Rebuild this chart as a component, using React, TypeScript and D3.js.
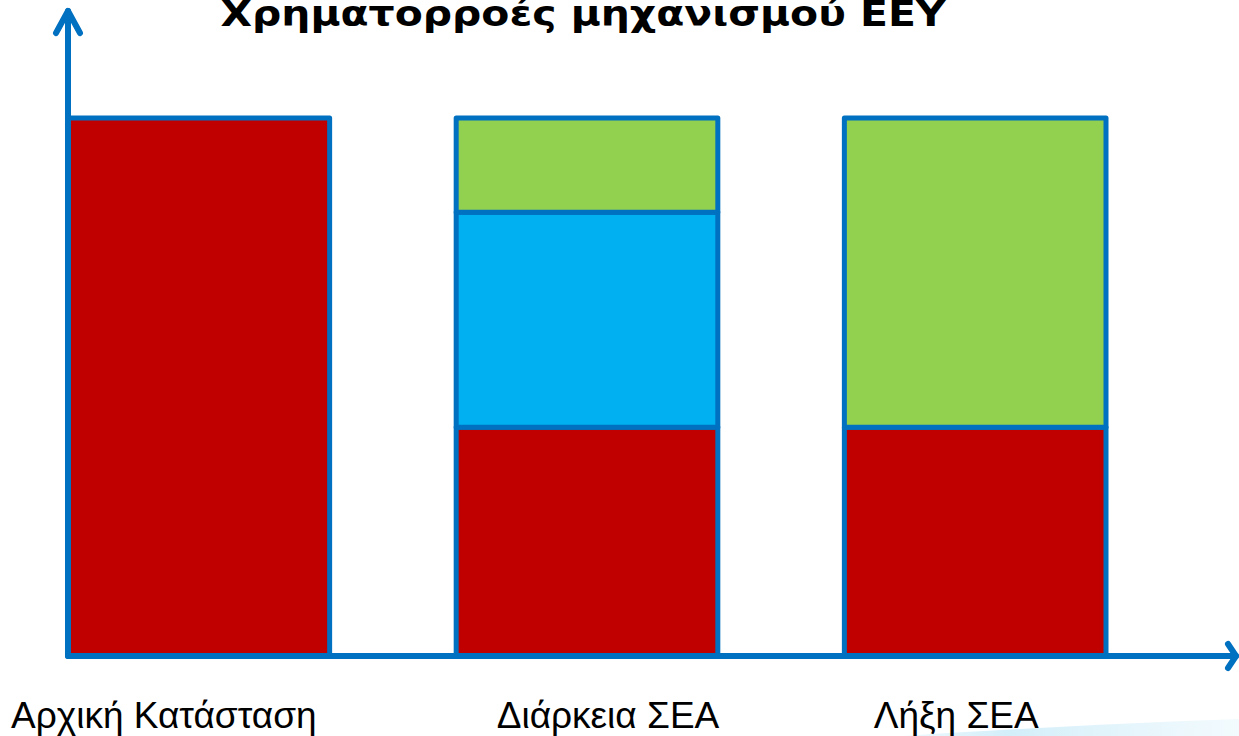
import { useEffect, useRef } from "react";
import * as d3 from "d3";

// Categories along the x axis
const categories = ["Αρχική Κατάσταση", "Διάρκεια ΣΕΑ", "Λήξη ΣΕΑ"];

// Stacked segments (bottom to top), share of total height
const redValues = [100, 42.5, 42.5];
const blueValues = [0, 40, 0];
const greenValues = [0, 17.5, 57.5];

const seriesKeys = ["red", "blue", "green"];
const seriesColors: Record<string, string> = {
  red: "#C00000",
  blue: "#00B0F0",
  green: "#92D050",
};

const title = "Χρηματορροές μηχανισμού ΕΕΥ";

const W = 1239;
const H = 736;
const AXIS = "#0070C0";

export default function App() {
  const svgRef = useRef<SVGSVGElement>(null);

  useEffect(() => {
    if (!svgRef.current) return;
    const svg = d3.select(svgRef.current);
    svg.selectAll("*").remove();

    const rows = categories.map((c, i) => ({
      cat: c,
      red: redValues[i],
      blue: blueValues[i],
      green: greenValues[i],
    }));

    const x = d3.scaleBand<string>()
      .domain(categories)
      .range([68, 1106])
      .paddingInner(0.326)
      .paddingOuter(0);

    const y = d3.scaleLinear().domain([0, 100]).range([656, 118]);

    const stack = d3.stack<any>().keys(seriesKeys);
    const layers = stack(rows);

    // soft swoosh at the bottom right
    const defs = svg.append("defs");
    const grad = defs.append("linearGradient")
      .attr("id", "swoosh")
      .attr("x1", "0%").attr("x2", "100%");
    grad.append("stop").attr("offset", "0%").attr("stop-color", "#cfeefa").attr("stop-opacity", 0);
    grad.append("stop").attr("offset", "45%").attr("stop-color", "#bfe7f7").attr("stop-opacity", 0.7);
    grad.append("stop").attr("offset", "100%").attr("stop-color", "#e6f6fc").attr("stop-opacity", 0.5);
    svg.append("path")
      .attr("d", "M820,742 C950,732 1100,724 1239,719 L1239,736 L820,742 Z")
      .attr("fill", "url(#swoosh)");

    // title (clipped at the top in the original)
    svg.append("text")
      .attr("x", 583)
      .attr("y", 26)
      .attr("text-anchor", "middle")
      .attr("font-family", "'DejaVu Sans', sans-serif")
      .attr("font-weight", "bold")
      .attr("font-size", 36)
      .attr("textLength", 725)
      .attr("lengthAdjust", "spacingAndGlyphs")
      .attr("fill", "#000")
      .text(title);

    // stacked bars
    layers.forEach((layer) => {
      svg.append("g")
        .selectAll("rect")
        .data(layer.filter((d) => d[1] - d[0] > 0))
        .join("rect")
        .attr("x", (d: any) => x(d.data.cat)!)
        .attr("width", x.bandwidth())
        .attr("y", (d) => y(d[1]))
        .attr("height", (d) => y(d[0]) - y(d[1]))
        .attr("fill", seriesColors[layer.key])
        .attr("stroke", AXIS)
        .attr("stroke-width", 5)
        .attr("stroke-linejoin", "round");
    });

    // axes with open arrow heads
    const axisG = svg.append("g")
      .attr("fill", "none")
      .attr("stroke", AXIS)
      .attr("stroke-width", 6)
      .attr("stroke-linecap", "round")
      .attr("stroke-linejoin", "round");
    const x0 = 68;
    const y0 = y(0);
    axisG.append("path").attr("d", `M${x0},${y0} L${x0},11`);
    axisG.append("path").attr("d", `M${x0 - 12},33 L${x0},11 L${x0 + 12},33`);
    axisG.append("path").attr("d", `M${x0},${y0} L1236,${y0}`);
    axisG.append("path").attr("d", `M1228,${y0 - 12} L1236,${y0} L1228,${y0 + 12}`);

    // category labels
    svg.append("g")
      .selectAll("text")
      .data(categories)
      .join("text")
      .attr("x", (d, i) => x(d)! + x.bandwidth() / 2 + [-35, 21, -19][i])
      .attr("y", 728)
      .attr("text-anchor", "middle")
      .attr("font-family", "'Liberation Sans', Arial, sans-serif")
      .attr("font-size", 37)
      .attr("fill", "#000")
      .text((d) => d);
  }, []);

  return (
    <svg
      ref={svgRef}
      width={W}
      height={H}
      style={{ position: "absolute", left: 0, top: 0, background: "#fff" }}
    />
  );
}
